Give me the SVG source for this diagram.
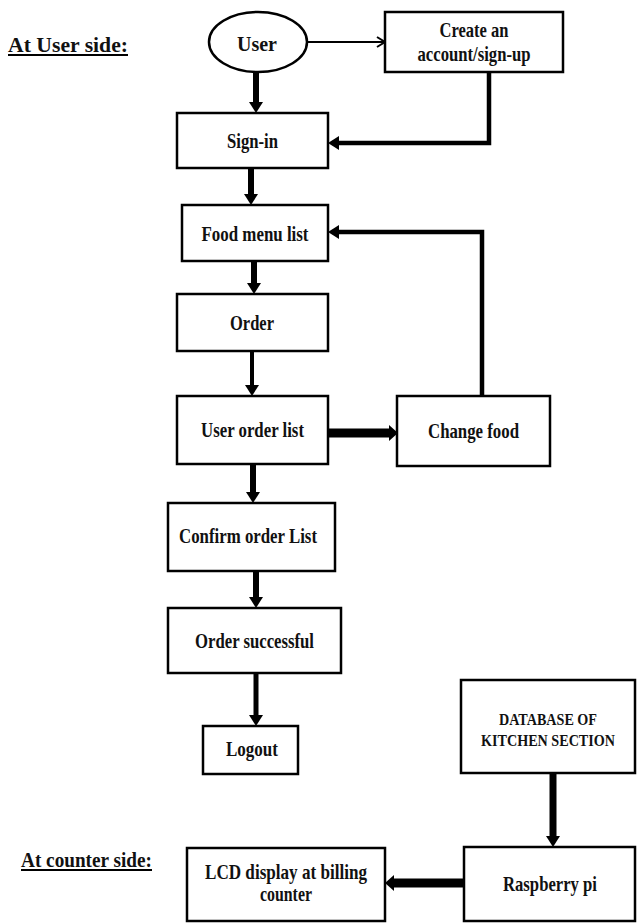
<svg xmlns="http://www.w3.org/2000/svg" width="637" height="923" viewBox="0 0 637 923">
<style>
  .box { fill: #ffffff; stroke: #000000; stroke-width: 2.5; }
  .t { font-family: "Liberation Serif", "Times New Roman", serif; font-weight: bold; font-size: 21px; fill: #111111; text-anchor: middle; }
  .ts { font-family: "Liberation Serif", "Times New Roman", serif; font-weight: bold; font-size: 16px; fill: #111111; text-anchor: middle; }
  .hd { font-family: "Liberation Serif", "Times New Roman", serif; font-weight: bold; font-size: 21px; fill: #111111; }
  .c { fill: none; stroke: #000000; stroke-linejoin: miter; }
</style>
<defs>
  <marker id="head" markerUnits="userSpaceOnUse" markerWidth="11" markerHeight="14" refX="0" refY="7" orient="auto" overflow="visible">
    <path d="M0,0 L11,7 L0,14 Z" fill="#000000"/>
  </marker>
  <marker id="headL" markerUnits="userSpaceOnUse" markerWidth="9" markerHeight="16" refX="0" refY="8" orient="auto" overflow="visible">
    <path d="M0,0 L9,8 L0,16 Z" fill="#000000"/>
  </marker>
  <marker id="open" markerUnits="userSpaceOnUse" markerWidth="10" markerHeight="12" refX="9" refY="6" orient="auto" overflow="visible">
    <path d="M1,1 L9,6 L1,11" fill="none" stroke="#000000" stroke-width="2"/>
  </marker>
</defs>
<rect width="637" height="923" fill="#ffffff"/>

<g id="label-user-side">
  <text class="hd" x="8" y="52" textLength="120" lengthAdjust="spacingAndGlyphs">At User side:</text>
  <line x1="8" y1="55" x2="128" y2="55" stroke="#000" stroke-width="2"/>
</g>
<g id="label-counter-side">
  <text class="hd" x="21" y="867" textLength="131" lengthAdjust="spacingAndGlyphs">At counter side:</text>
  <line x1="21" y1="870" x2="152" y2="870" stroke="#000" stroke-width="2"/>
</g>

<g id="connectors">
  <line class="c" x1="307" y1="42" x2="385" y2="42" stroke-width="2" marker-end="url(#open)"/>
  <line class="c" x1="256" y1="72" x2="256" y2="102" stroke-width="6" marker-end="url(#head)"/>
  <polyline class="c" points="489,72 489,143 339,143" stroke-width="4.5" marker-end="url(#head)"/>
  <line class="c" x1="251" y1="168" x2="251" y2="194" stroke-width="6" marker-end="url(#head)"/>
  <line class="c" x1="254" y1="261" x2="254" y2="283" stroke-width="6" marker-end="url(#head)"/>
  <line class="c" x1="252" y1="351" x2="252" y2="385" stroke-width="4" marker-end="url(#head)"/>
  <line class="c" x1="328" y1="433" x2="389" y2="433" stroke-width="9" marker-end="url(#headL)"/>
  <polyline class="c" points="482,396 482,232 339,232" stroke-width="4.5" marker-end="url(#head)"/>
  <line class="c" x1="253" y1="464" x2="253" y2="492" stroke-width="6" marker-end="url(#head)"/>
  <line class="c" x1="256" y1="571" x2="256" y2="597" stroke-width="6" marker-end="url(#head)"/>
  <line class="c" x1="256" y1="673" x2="256" y2="715" stroke-width="5" marker-end="url(#head)"/>
  <line class="c" x1="553" y1="773" x2="553" y2="836" stroke-width="7" marker-end="url(#head)"/>
  <line class="c" x1="464" y1="883" x2="394" y2="883" stroke-width="9" marker-end="url(#headL)"/>
</g>

<g id="user">
  <ellipse class="box" cx="258" cy="42" rx="49" ry="30"/>
  <text class="t" x="257" y="51" textLength="40" lengthAdjust="spacingAndGlyphs">User</text>
</g>
<g id="create-account">
  <rect class="box" x="385" y="12" width="178" height="60"/>
  <text class="t" x="474" y="37" textLength="69" lengthAdjust="spacingAndGlyphs">Create an</text>
  <text class="t" x="474" y="61" textLength="113" lengthAdjust="spacingAndGlyphs">account/sign-up</text>
</g>
<g id="sign-in">
  <rect class="box" x="177" y="113" width="151" height="55"/>
  <text class="t" x="252.5" y="148" textLength="51" lengthAdjust="spacingAndGlyphs">Sign-in</text>
</g>
<g id="food-menu-list">
  <rect class="box" x="182" y="205" width="146" height="56"/>
  <text class="t" x="255" y="241" textLength="107" lengthAdjust="spacingAndGlyphs">Food menu list</text>
</g>
<g id="order">
  <rect class="box" x="177" y="294" width="151" height="57"/>
  <text class="t" x="252" y="330" textLength="44" lengthAdjust="spacingAndGlyphs">Order</text>
</g>
<g id="user-order-list">
  <rect class="box" x="177" y="396" width="151" height="68"/>
  <text class="t" x="252.5" y="437" textLength="103" lengthAdjust="spacingAndGlyphs">User order list</text>
</g>
<g id="change-food">
  <rect class="box" x="397" y="396" width="153" height="70"/>
  <text class="t" x="473.5" y="438" textLength="91" lengthAdjust="spacingAndGlyphs">Change food</text>
</g>
<g id="confirm-order-list">
  <rect class="box" x="168" y="503" width="167" height="68"/>
  <text class="t" x="248" y="543" textLength="138" lengthAdjust="spacingAndGlyphs">Confirm order List</text>
</g>
<g id="order-successful">
  <rect class="box" x="168" y="608" width="173" height="65"/>
  <text class="t" x="254.5" y="648" textLength="119" lengthAdjust="spacingAndGlyphs">Order successful</text>
</g>
<g id="logout">
  <rect class="box" x="203" y="726" width="95" height="48"/>
  <text class="t" x="252" y="756" textLength="52" lengthAdjust="spacingAndGlyphs">Logout</text>
</g>
<g id="database">
  <rect class="box" x="461" y="680" width="174" height="93"/>
  <text class="ts" x="548" y="725" textLength="98" lengthAdjust="spacingAndGlyphs">DATABASE OF</text>
  <text class="ts" x="548" y="746" textLength="134" lengthAdjust="spacingAndGlyphs">KITCHEN SECTION</text>
</g>
<g id="raspberry-pi">
  <rect class="box" x="464" y="847" width="171" height="74"/>
  <text class="t" x="550" y="891" textLength="94" lengthAdjust="spacingAndGlyphs">Raspberry pi</text>
</g>
<g id="lcd-display">
  <rect class="box" x="187" y="848" width="198" height="73"/>
  <text class="t" x="286" y="879" textLength="162" lengthAdjust="spacingAndGlyphs">LCD display at billing</text>
  <text class="t" x="286" y="901" textLength="52" lengthAdjust="spacingAndGlyphs">counter</text>
</g>
</svg>
